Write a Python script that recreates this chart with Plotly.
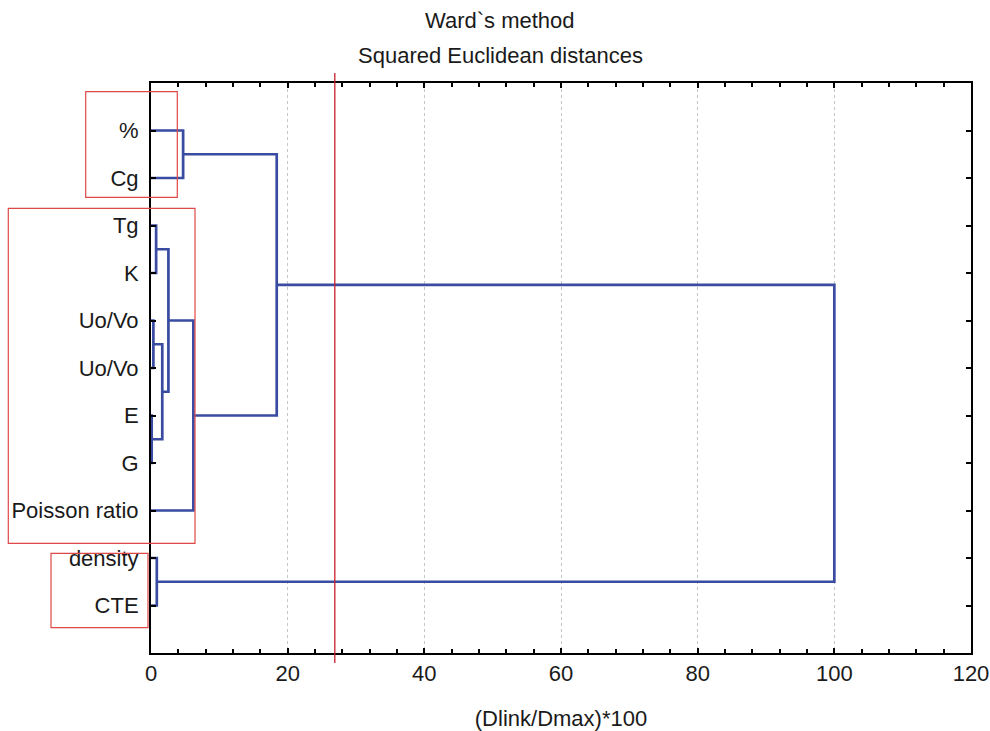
import plotly.graph_objects as go

# ---- data ----
labels = ["%", "Cg", "Tg", "K", "Uo/Vo", "Uo/Vo", "E", "G", "Poisson ratio", "density", "CTE"]
# merges: new cluster id = len(labels) + index
merge_left = [0, 2, 4, 6, 13, 12, 16, 11, 9, 18]
merge_right = [1, 3, 5, 7, 14, 15, 8, 17, 10, 19]
merge_height = [4.7, 0.75, 0.35, 0.1, 1.65, 2.55, 6.2, 18.4, 0.85, 100.0]
cut_level = 26.9
x_ticks = [0, 20, 40, 60, 80, 100, 120]

# ---- build dendrogram segments ----
n = len(labels)
pos = {i: i + 1 for i in range(n)}
hgt = {i: 0.0 for i in range(n)}
xs, ys = [], []
for k, (a, b, h) in enumerate(zip(merge_left, merge_right, merge_height)):
    xs += [hgt[a], h, h, hgt[b], None]
    ys += [pos[a], pos[a], pos[b], pos[b], None]
    cid = n + k
    pos[cid] = (pos[a] + pos[b]) / 2
    hgt[cid] = h

fig = go.Figure()
fig.add_trace(go.Scatter(x=xs, y=ys, mode="lines",
                         line=dict(color="#3a4ba2", width=2.7),
                         hoverinfo="skip", showlegend=False))

FONT = "Liberation Sans, Arial, sans-serif"
FS = 22

fig.update_layout(
    width=990, height=731,
    margin=dict(l=151, r=19, t=83, b=78),
    paper_bgcolor="white", plot_bgcolor="white",
    font=dict(family=FONT, size=FS, color="#1a1a1a"),
    showlegend=False,
)
fig.update_xaxes(
    automargin=False,
    range=[0, 120], tickvals=x_ticks, ticktext=[str(v) for v in x_ticks],
    showline=True, linecolor="black", linewidth=2, mirror="allticks",
    ticks="inside", ticklen=5, tickwidth=2, tickcolor="black",
    minor=dict(dtick=4, ticks="inside", ticklen=4, tickwidth=1.5, tickcolor="black", showgrid=False),
    showgrid=True, gridcolor="#c4c4c4", griddash="dot", gridwidth=1,
    zeroline=False, tickfont=dict(size=FS, family=FONT),
    title=dict(text="(Dlink/Dmax)*100", font=dict(size=FS, family=FONT), standoff=26),
)
fig.update_yaxes(
    automargin=False,
    range=[n + 1, 0], tickvals=list(range(1, n + 1)), ticktext=labels,
    showline=True, linecolor="black", linewidth=2, mirror="allticks",
    ticks="inside", ticklen=5, tickwidth=2, tickcolor="black",
    showgrid=False, zeroline=False, tickfont=dict(size=FS, family=FONT),
    ticklabelstandoff=6,
)

# titles
fig.add_annotation(text="Ward`s method", xref="paper", yref="paper",
                   x=(500 - 151) / 820, y=(653 - 20) / 570, showarrow=False,
                   font=dict(size=FS, family=FONT, color="#1a1a1a"), xanchor="center", yanchor="middle")
fig.add_annotation(text="Squared Euclidean distances", xref="paper", yref="paper",
                   x=(500 - 151) / 820, y=(653 - 55) / 570, showarrow=False,
                   font=dict(size=FS, family=FONT, color="#1a1a1a"), xanchor="center", yanchor="middle")

# cut line
fig.add_shape(type="line", xref="paper", yref="paper",
              x0=cut_level / 120, x1=cut_level / 120,
              y0=(653 - 663) / 570, y1=(653 - 73) / 570,
              line=dict(color="#c8222a", width=1.3))

# highlight rectangles (pixel based)
def px_rect(x0, y0, x1, y1):
    fig.add_shape(type="rect", xref="paper", yref="paper",
                  x0=(x0 - 151) / 820, x1=(x1 - 151) / 820,
                  y0=(653 - y1) / 570, y1=(653 - y0) / 570,
                  line=dict(color="#e04848", width=1.2), fillcolor="rgba(0,0,0,0)")

px_rect(85.7, 91.7, 177.3, 197.3)
px_rect(8.3, 208.3, 195.0, 543.3)
px_rect(51.0, 553.3, 148.0, 627.7)

fig.write_html("out.html")
